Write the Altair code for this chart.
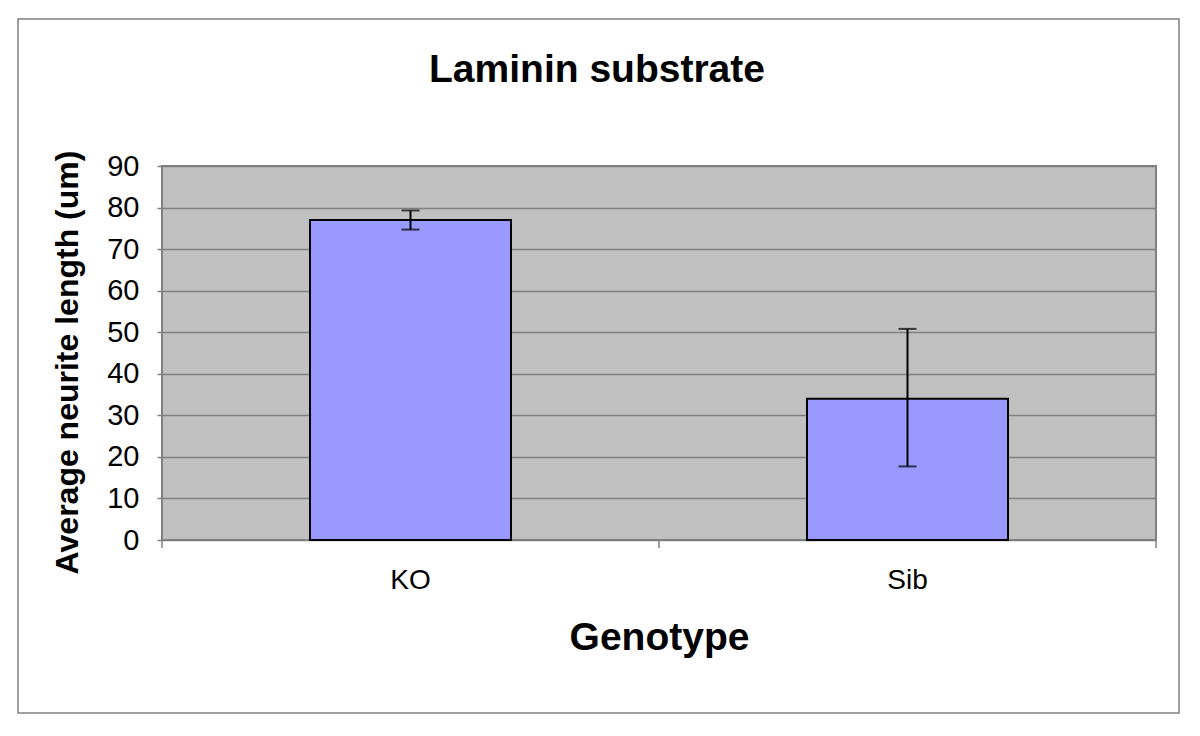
import altair as alt
import pandas as pd

genotypes = ["KO", "Sib"]
mean_length = [77.0, 34.0]
err_low = [74.7, 17.7]
err_high = [79.3, 50.8]

df = pd.DataFrame({"Genotype": genotypes, "value": mean_length,
                   "lo": err_low, "hi": err_high})
frame_df = pd.DataFrame({"k": [0]})
last_df = pd.DataFrame({"Genotype": [genotypes[-1]]})

FONT = "Liberation Sans"

x_scale = alt.Scale(paddingInner=0.5956, paddingOuter=0.2978)

x_enc = alt.X("Genotype:N", sort=genotypes, scale=x_scale,
              axis=alt.Axis(title="Genotype", titleFontSize=39, titleFont=FONT,
                            titleFontWeight="bold", titleColor="black",
                            titlePadding=24,
                            labelFont=FONT, labelFontSize=28, labelColor="black",
                            labelPadding=18, labelAngle=0,
                            domain=False, ticks=True, tickColor="transparent",
                            tickSize=8, grid=False))

y_scale = alt.Scale(domain=[0, 90], nice=False)

bars = alt.Chart(df).mark_bar(fill="#9999FF", stroke="black", strokeWidth=2).encode(
    x=x_enc,
    y=alt.Y("value:Q", scale=y_scale,
            axis=alt.Axis(title="Average neurite length (um)", values=list(range(0, 91, 10)),
                          titleFontSize=32, titleFont=FONT, titleFontWeight="bold",
                          titleColor="black", titlePadding=22, titleY=196,
                          labelFont=FONT, labelFontSize=29, labelColor="black",
                          labelPadding=18, domain=False,
                          ticks=True, tickColor="#808080", tickSize=5, tickWidth=1.5,
                          grid=True, gridColor="#808080", gridWidth=1.5)),
)

# category-boundary ticks below the x axis
ticks_start = alt.Chart(df).mark_rule(color="#808080", strokeWidth=1.5, xOffset=-148).encode(
    x=alt.X("Genotype:N", sort=genotypes, bandPosition=0),
    y=alt.value(374), y2=alt.value(382),
)
ticks_end = alt.Chart(last_df).mark_rule(color="#808080", strokeWidth=1.5, xOffset=148).encode(
    x=alt.X("Genotype:N", sort=genotypes, bandPosition=1),
    y=alt.value(374), y2=alt.value(382),
)

err = alt.Chart(df).mark_rule(color="black", strokeWidth=2).encode(
    x=alt.X("Genotype:N", sort=genotypes),
    y=alt.Y("lo:Q", scale=y_scale),
    y2="hi:Q",
)
cap_lo = alt.Chart(df).mark_tick(color="black", thickness=2, size=18).encode(
    x=alt.X("Genotype:N", sort=genotypes),
    y=alt.Y("lo:Q", scale=y_scale),
)
cap_hi = alt.Chart(df).mark_tick(color="black", thickness=2, size=18).encode(
    x=alt.X("Genotype:N", sort=genotypes),
    y=alt.Y("hi:Q", scale=y_scale),
)

frame = alt.Chart(frame_df).mark_rect(fill="transparent", stroke="#808080", strokeWidth=1.5).encode(
    x=alt.value(-144), x2=alt.value(1017), y=alt.value(-147), y2=alt.value(547)
)

title = alt.Chart(frame_df).mark_text(
    text="Laminin substrate", font=FONT, fontSize=39, fontWeight="bold",
    color="black", align="center", baseline="alphabetic"
).encode(x=alt.value(435), y=alt.value(-84))

chart = alt.layer(frame, bars, ticks_start, ticks_end, err, cap_lo, cap_hi, title).properties(
    width=994, height=374,
    autosize=alt.AutoSizeParams(type="none"),
    padding={"left": 154, "top": 158, "right": 36, "bottom": 188},
    background="white",
).configure_view(fill="#C0C0C0", stroke="#808080", strokeWidth=2)

chart.save("out.html", embed_options={"renderer": "svg", "actions": False})
